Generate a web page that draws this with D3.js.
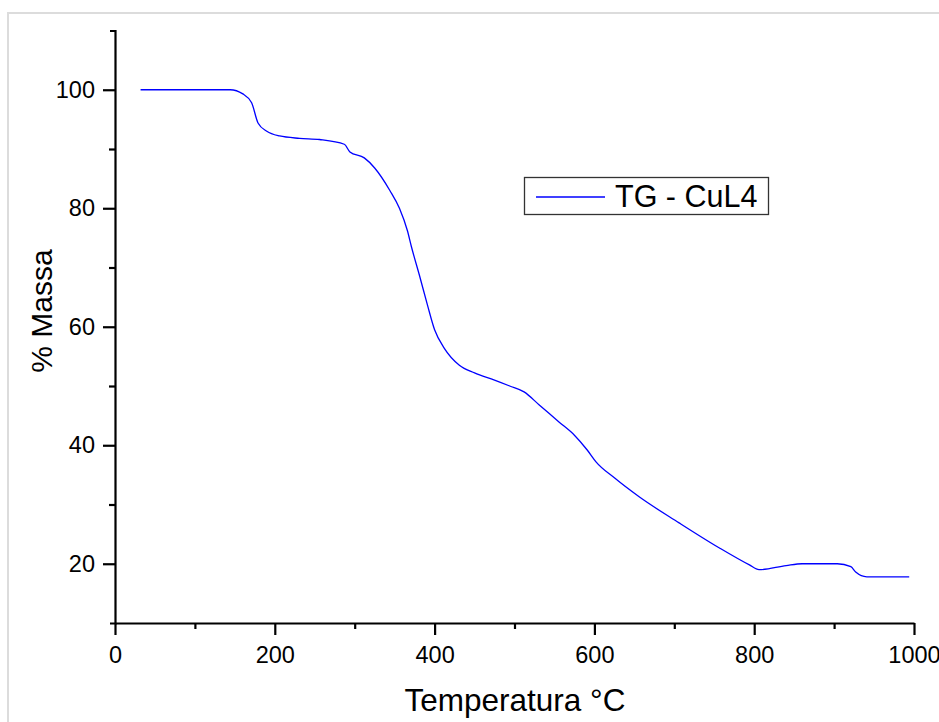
<!DOCTYPE html>
<html lang="en">
<head>
<meta charset="utf-8">
<title>TG - CuL4</title>
<script src="https://d3js.org/d3.v7.min.js"></script>
<style>
  body { margin: 0; background: #fff; }
  svg { display: block; font-family: "Liberation Sans", Arial, sans-serif; }
</style>
</head>
<body>
<div id="chart"></div>
<script>
// Data (temperature in °C, mass in %)
var temps = [32, 144, 160, 171, 179, 190, 206, 231, 256, 287,
             294, 312, 325, 344, 356, 366, 371, 381, 391, 400,
             412, 431, 450, 475, 494, 512, 531, 556, 575, 591,
             602, 625, 656, 706, 756, 794, 806, 840, 860, 904,
             921, 927, 941, 994];
var mass = [100, 100, 99.3, 97.8, 94.4, 93, 92.2, 91.8, 91.6, 90.8,
            89.5, 88.5, 86.8, 83, 80, 76.2, 73.5, 68.7, 63.7, 59.5,
            56.4, 53.5, 52.2, 51, 50, 49, 46.8, 43.9, 41.7, 39.2,
            37.2, 34.5, 31.3, 26.9, 22.7, 19.8, 19, 19.7, 20, 20,
            19.5, 18.6, 17.8, 17.8];
var xMajor = [0, 200, 400, 600, 800, 1000];
var xMinor = [100, 300, 500, 700, 900];
var yMajor = [20, 40, 60, 80, 100];
var yMinor = [30, 50, 70, 90];
var seriesName = "TG - CuL4";

var width = 939, height = 722;
var svg = d3.select("#chart").append("svg")
    .attr("width", width)
    .attr("height", height);

// light frame round the plot
svg.append("rect")
    .attr("x", 8).attr("y", 13)
    .attr("width", width).attr("height", height)
    .attr("fill", "none")
    .attr("stroke", "#dcdcdc")
    .attr("stroke-width", 2);

var x = d3.scaleLinear().domain([0, 1000]).range([115, 914]);
var y = d3.scaleLinear().domain([10, 110]).range([623, 30.5]);

// minor ticks first, major axes on top
svg.append("g")
    .attr("transform", "translate(0,623)")
    .call(d3.axisBottom(x).tickValues(xMinor).tickSize(6).tickSizeOuter(0).tickFormat(""))
    .call(function(g) { g.select(".domain").remove(); });
svg.append("g")
    .attr("transform", "translate(115,0)")
    .call(d3.axisLeft(y).tickValues(yMinor).tickSize(6).tickSizeOuter(0).tickFormat(""))
    .call(function(g) { g.select(".domain").remove(); });

var xAxis = svg.append("g")
    .attr("transform", "translate(0,623)")
    .call(d3.axisBottom(x).tickValues(xMajor).tickSize(12).tickSizeOuter(0).tickPadding(11).tickFormat(d3.format("d")));
var yAxis = svg.append("g")
    .attr("transform", "translate(115,0)")
    .call(d3.axisLeft(y).tickValues(yMajor).tickSize(12).tickSizeOuter(5).tickPadding(8).tickFormat(d3.format("d")));

svg.selectAll(".tick line, .domain")
    .attr("stroke", "#000")
    .attr("stroke-width", 2.2);
svg.selectAll(".tick text")
    .attr("fill", "#000")
    .style("font-size", "23.5px");

// curve
var line = d3.line()
    .x(function(d, i) { return x(temps[i]); })
    .y(function(d) { return y(d); })
    .curve(d3.curveMonotoneX);

svg.append("path")
    .datum(mass)
    .attr("d", line)
    .attr("fill", "none")
    .attr("stroke", "#0000ff")
    .attr("stroke-width", 1.3);

// axis titles
svg.append("text")
    .attr("x", 515).attr("y", 711)
    .attr("text-anchor", "middle")
    .style("font-size", "31.5px")
    .text("Temperatura °C");

svg.append("text")
    .attr("transform", "translate(52,311) rotate(-90)")
    .attr("text-anchor", "middle")
    .style("font-size", "30px")
    .text("% Massa");

// legend
var legend = svg.append("g").attr("transform", "translate(524,177)");
legend.append("rect")
    .attr("x", 0.5).attr("y", 0.5)
    .attr("width", 244).attr("height", 37)
    .attr("fill", "#fff")
    .attr("stroke", "#333")
    .attr("stroke-width", 1.3);
legend.append("line")
    .attr("x1", 12).attr("x2", 81)
    .attr("y1", 20).attr("y2", 20)
    .attr("stroke", "#0000ff")
    .attr("stroke-width", 1.3);
legend.append("text")
    .attr("x", 91).attr("y", 30)
    .style("font-size", "30.5px")
    .text(seriesName);
</script>
</body>
</html>
